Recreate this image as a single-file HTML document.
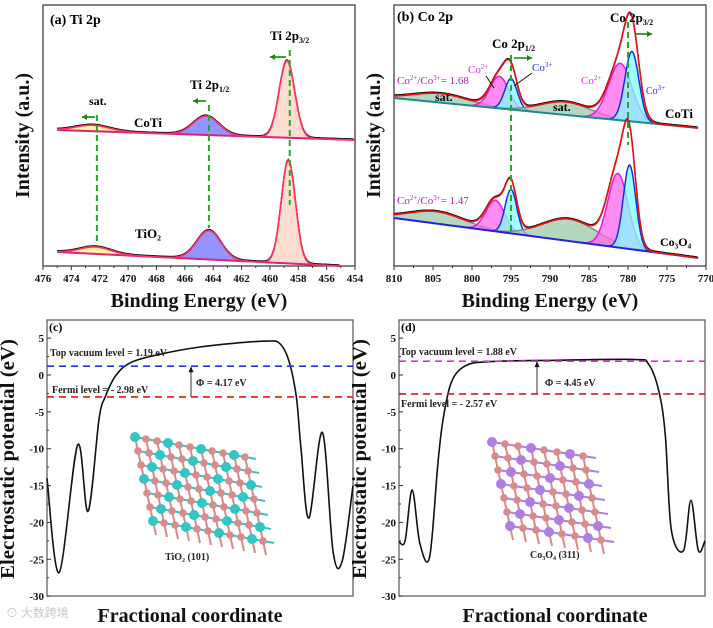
<!DOCTYPE html>
<html><head><meta charset="utf-8">
<style>
html,body{margin:0;padding:0;background:#fff;}
svg{display:block;font-family:"Liberation Serif",serif;}
.tk{font-size:11px;font-weight:bold;fill:#111;}
.ttl{font-size:20px;font-weight:bold;fill:#111;}
.ann{font-size:10px;font-weight:bold;fill:#222;}
</style></head>
<body>
<svg id="fig" width="713" height="628" viewBox="0 0 713 628" xmlns="http://www.w3.org/2000/svg">
<g id="gA"></g>
<g id="gB"></g>
<g id="gC"></g>
<g id="gD"></g>
<text x="6" y="617" font-size="12" fill="#c8c8c8" font-family="'Noto Sans CJK SC',sans-serif">⊙ 大数跨境</text>
</svg>
<script>
// ===== Panel (a) data =====
const aTicks = [476,474,472,470,468,466,464,462,460,458,456,454];
const aCoTiBase = [475, 9, 454, -1];
const aCoTiCenters = [472.5, 464.5, 458.8];
const aCoTiHeights = [6, 19, 77];
const aCoTiSigmas = [1.2, 0.9, 0.55];
const aTiO2Base = [475, -113, 455, -127];
const aTiO2Centers = [472.3, 464.3, 458.7];
const aTiO2Heights = [7, 29, 103];
const aTiO2Sigmas = [1.1, 0.85, 0.5];
// ===== Panel (b) data =====
const bTicks = [810,805,800,795,790,785,780,775,770];
const bCoTiBase = [810, 32, 771, 2];
const bCoTiCenters = [804, 796.5, 795, 788, 781, 779.5];
const bCoTiHeights = [9, 32, 31, 13, 57, 70];
const bCoTiSigmas = [3.5, 1.2, 0.8, 3.2, 1.5, 0.9];
const bCo3O4Base = [810, -88, 771, -128];
const bCo3O4Centers = [804.5, 797, 795, 787.5, 781.3, 779.8];
const bCo3O4Heights = [12, 31, 44, 22, 74, 84];
const bCo3O4Sigmas = [3.5, 1.2, 0.75, 3.5, 1.3, 0.8];
// ===== Panel (c) / (d) data =====
const cFrac = [0,0.04,0.1,0.134,0.17,0.19,0.226,0.28,0.39,0.5,0.61,0.72,0.76,0.79,0.815,0.83,0.856,0.9,0.935,0.965,1];
const cPot  = [-14,-26.8,-9.5,-18.5,-6,-3,0,1.8,3,3.8,4.3,4.6,4.3,2,-3,-10,-19.4,-7.8,-24,-25.2,-15];
const dFrac = [0,0.02,0.043,0.068,0.1,0.127,0.144,0.171,0.215,0.29,0.51,0.77,0.815,0.848,0.87,0.89,0.93,0.954,0.978,1];
const dPot  = [-22.6,-22.5,-15.6,-22.8,-24.7,-12,-6,-1,1.2,1.8,2,2.1,1.5,-2,-8,-21,-23.8,-17,-23.8,-22.5];
const potTicks = [5,0,-5,-10,-15,-20,-25,-30];
const cLevels = [1.19, -2.98];
const dLevels = [1.88, -2.57];

const NS="http://www.w3.org/2000/svg";
function mk(p,tag,at,txt){const e=document.createElementNS(NS,tag);for(const k in at)e.setAttribute(k,at[k]);if(txt!==undefined)e.textContent=txt;p.appendChild(e);return e;}
function gauss(E,c,h,s){return h*Math.exp(-0.5*((E-c)/s)**2);}

function xpsPanel(g,o){
  const X=E=>o.x0+(o.e0-E)*(o.x1-o.x0)/(o.e0-o.e1);
  const Y=I=>o.yZero-I;
  let fr=mk(g,'rect',{x:o.x0,y:o.y0,width:o.x1-o.x0,height:o.y1-o.y0,fill:'none',stroke:'#333','stroke-width':1.2});
  
  o.ticks.forEach((t,i)=>{
    const x=X(t);
    let l=mk(g,'line',{x1:x,y1:o.y1,x2:x,y2:o.y1+4,stroke:'#333'});
    
    if(i<o.ticks.length-1){const xm=X((t+o.ticks[i+1])/2);mk(g,'line',{x1:xm,y1:o.y1,x2:xm,y2:o.y1+2,stroke:'#333'});}
    let tx=mk(g,'text',{x:x,y:o.y1+16,'text-anchor':'middle',class:'tk'},t);
    
  });
  let xt=mk(g,'text',{x:(o.x0+o.x1)/2,y:o.y1+41,'text-anchor':'middle',class:'ttl'},'Binding Energy (eV)');
  
  let yt=mk(g,'text',{x:0,y:0,'text-anchor':'middle',class:'ttl',transform:`translate(${o.x0-14},${(o.y0+o.y1)/2}) rotate(-90)`},'Intensity (a.u.)');
  
  o.series.forEach(s=>{
    const [Ea,Ia,Eb,Ib]=s.base;
    const base=E=>Ia+(E-Ea)*(Ib-Ia)/(Eb-Ea);
    const sg=mk(g,'g',{});
    
    s.centers.forEach((c,k)=>{
      const lo=c+4*s.sigmas[k], hi=c-4*s.sigmas[k];
      const pts=[];
      for(let E=Math.min(lo,Ea);E>=Math.max(hi,Eb);E-=0.1){pts.push([X(E),Y(base(E)+gauss(E,c,s.heights[k],s.sigmas[k]))]);}
      if(!pts.length)return;
      const d='M'+pts.map(p=>p[0].toFixed(1)+','+p[1].toFixed(1)).join('L');
      const back=[];for(let i=pts.length-1;i>=0;i--){const E=o.e0-(pts[i][0]-o.x0)*(o.e0-o.e1)/(o.x1-o.x0);back.push([pts[i][0],Y(base(E))]);}
      const st=s.styles[k];
      let f=mk(sg,'path',{d:d+'L'+back.map(p=>p[0].toFixed(1)+','+p[1].toFixed(1)).join('L')+'Z',fill:st[0],'fill-opacity':0.75,stroke:'none'});
      
      let l=mk(sg,'path',{d:d,fill:'none',stroke:st[1],'stroke-width':1.5});
      
    });
    let bl=mk(sg,'line',{x1:X(Ea),y1:Y(Ia),x2:X(Eb),y2:Y(Ib),stroke:s.baseColor,'stroke-width':2});
    
    const env=[];
    for(let E=Ea;E>=Eb;E-=0.1){let v=base(E);s.centers.forEach((c,k)=>v+=gauss(E,c,s.heights[k],s.sigmas[k]));env.push(X(E).toFixed(1)+','+Y(v).toFixed(1));}
    let raw=mk(sg,'path',{d:'M'+env.join('L'),fill:'none',stroke:'#111','stroke-width':1.3,transform:'translate(0,-1)'});
    
    let ev=mk(sg,'path',{d:'M'+env.join('L'),fill:'none',stroke:s.envColor,'stroke-width':1.6});
    
  });
  return {X,Y};
}
function dashV(g,x,y1,y2,name){let l=mk(g,'line',{x1:x,y1:y1,x2:x,y2:y2,stroke:'#22aa22','stroke-width':2,'stroke-dasharray':'6,4'});}
function arrow(g,x1,x2,y,name){let a=mk(g,'g',{});
  mk(a,'line',{x1:x1,y1:y,x2:x2,y2:y,stroke:'#118811','stroke-width':1.6});
  const dir=x2>x1?1:-1;mk(a,'path',{d:`M${x2},${y}L${x2-dir*5},${y-3}L${x2-dir*5},${y+3}Z`,fill:'#118811'});}
function txt(g,x,y,s,attrs,name){let t=mk(g,'text',Object.assign({x:x,y:y},attrs||{}));t.innerHTML=s;return t;}

// Panel A
const gA=document.getElementById('gA');
const A=xpsPanel(gA,{x0:43,x1:355,y0:5,y1:266,e0:476,e1:454,yZero:139,ticks:aTicks,series:[
 {name:'coti-spectrum',base:aCoTiBase,centers:aCoTiCenters,heights:aCoTiHeights,sigmas:aCoTiSigmas,baseColor:'#dd2277',envColor:'#ff3366',
  styles:[['#fff080','#ff3377'],['#7070ff','#8822dd'],['#ffd0c0','#ff7722']]},
 {name:'tio2-spectrum',base:aTiO2Base,centers:aTiO2Centers,heights:aTiO2Heights,sigmas:aTiO2Sigmas,baseColor:'#dd2277',envColor:'#ff3366',
  styles:[['#fff080','#ff3377'],['#7070ff','#8822dd'],['#ffd0c0','#ff7722']]}]});
dashV(gA,A.X(472.2),115,245,'sat-guide-line');dashV(gA,A.X(464.3),105,228,'ti2p12-guide-line');dashV(gA,A.X(458.6),50,205,'ti2p32-guide-line');
arrow(gA,95,82,117,'shift-arrow-sat');arrow(gA,206,193,101,'shift-arrow-2p12');arrow(gA,286,270,57,'shift-arrow-2p32');
txt(gA,50,24,'(a) Ti 2p',{'font-size':14,'font-weight':'bold'},'panel-a-label');
txt(gA,89,105,'sat.',{'font-size':12,'font-weight':'bold'},'sat-label');
txt(gA,190,89,'Ti 2p<tspan font-size="8" dy="3">1/2</tspan>',{'font-size':13,'font-weight':'bold'},'ti2p12-label');
txt(gA,270,40,'Ti 2p<tspan font-size="8" dy="3">3/2</tspan>',{'font-size':13,'font-weight':'bold'},'ti2p32-label');
txt(gA,134,127,'CoTi',{'font-size':13,'font-weight':'bold'},'coti-label');
txt(gA,135,238,'TiO₂',{'font-size':13,'font-weight':'bold'},'tio2-label');

// Panel B
const gB=document.getElementById('gB');
const pink=['#ff66ee','#dd22cc'],cyan=['#80ffff','#1133dd'],sat=['#9cc8aa','#888888'];
const B=xpsPanel(gB,{x0:394,x1:706,y0:5,y1:266,e0:810,e1:770,yZero:130,ticks:bTicks,series:[
 {name:'coti-co-spectrum',base:bCoTiBase,centers:bCoTiCenters,heights:bCoTiHeights,sigmas:bCoTiSigmas,baseColor:'#1a8a8a',envColor:'#ee1111',styles:[sat,pink,cyan,sat,pink,cyan]},
 {name:'co3o4-spectrum',base:bCo3O4Base,centers:bCo3O4Centers,heights:bCo3O4Heights,sigmas:bCo3O4Sigmas,baseColor:'#2222dd',envColor:'#ee1111',styles:[sat,pink,cyan,sat,pink,cyan]}]});
dashV(gB,B.X(795),55,232,'co2p12-guide-line');dashV(gB,B.X(780),22,145,'co2p32-guide-line');
arrow(gB,514,532,58,'shift-arrow-co2p12');arrow(gB,636,652,34,'shift-arrow-co2p32');
txt(gB,397,21,'(b) Co 2p',{'font-size':14,'font-weight':'bold'},'panel-b-label');
txt(gB,492,48,'Co 2p<tspan font-size="8" dy="3">1/2</tspan>',{'font-size':13,'font-weight':'bold'},'co2p12-label');
txt(gB,610,22,'Co 2p<tspan font-size="8" dy="3">3/2</tspan>',{'font-size':13,'font-weight':'bold'},'co2p32-label');
txt(gB,397,84,'Co<tspan font-size="7" dy="-4">2+</tspan><tspan dy="4">/Co</tspan><tspan font-size="7" dy="-4">3+</tspan><tspan dy="4">= 1.68</tspan>',{'font-size':11,fill:'#aa22aa'},'ratio-coti-label');
txt(gB,397,204,'Co<tspan font-size="7" dy="-4">2+</tspan><tspan dy="4">/Co</tspan><tspan font-size="7" dy="-4">3+</tspan><tspan dy="4">= 1.47</tspan>',{'font-size':11,fill:'#aa22aa'},'ratio-co3o4-label');
txt(gB,468,73,'Co<tspan font-size="7" dy="-4">2+</tspan>',{'font-size':11,fill:'#ee22dd'},'co2plus-label-1');
txt(gB,532,71,'Co<tspan font-size="7" dy="-4">3+</tspan>',{'font-size':11,fill:'#2233dd'},'co3plus-label-1');
txt(gB,581,84,'Co<tspan font-size="7" dy="-4">2+</tspan>',{'font-size':11,fill:'#ee22dd'},'co2plus-label-2');
txt(gB,646,94,'Co<tspan font-size="7" dy="-4">3+</tspan>',{'font-size':10,fill:'#2233dd'},'co3plus-label-2');
txt(gB,435,101,'sat.',{'font-size':12,'font-weight':'bold'},'sat-label-1');
txt(gB,553,111,'sat.',{'font-size':12,'font-weight':'bold'},'sat-label-2');
txt(gB,665,118,'CoTi',{'font-size':13,'font-weight':'bold'},'coti-label');
txt(gB,660,246,'Co₃O₄',{'font-size':12,'font-weight':'bold'},'co3o4-label');
mk(gB,'line',{x1:486,y1:76,x2:494,y2:88,stroke:'#111'});mk(gB,'line',{x1:532,y1:73,x2:514,y2:86,stroke:'#111'});

// Potential panels
function potPanel(g,o){
  const X=f=>o.x0+f*(o.x1-o.x0);
  const Y=v=>375-v*7.371;
  let fr=mk(g,'rect',{x:o.x0,y:320,width:o.x1-o.x0,height:276,fill:'none',stroke:'#555','stroke-width':1.2});
  
  potTicks.forEach((t,i)=>{
    let l=mk(g,'line',{x1:o.x0,y1:Y(t),x2:o.x0+4,y2:Y(t),stroke:'#333'});
    
    if(i<potTicks.length-1)mk(g,'line',{x1:o.x0,y1:Y(t-2.5),x2:o.x0+2,y2:Y(t-2.5),stroke:'#333'});
    let tx=mk(g,'text',{x:o.x0-3,y:Y(t)+4,'text-anchor':'end',class:'tk','font-size':12},t);
    
  });
  let yt=mk(g,'text',{x:0,y:0,'text-anchor':'middle',class:'ttl',textLength:240,lengthAdjust:'spacingAndGlyphs',transform:`translate(${o.x0-33},459) rotate(-90)`},'Electrostatic potential (eV)');
  
  let xt=mk(g,'text',{x:o.xtc,y:622,'text-anchor':'middle',class:'ttl'},'Fractional coordinate');
  
  const P=o.fr.map((f,i)=>[X(f),Y(o.pot[i])]);
  let d='M'+P[0][0]+','+P[0][1];
  for(let i=0;i<P.length-1;i++){const p0=P[Math.max(0,i-1)],p1=P[i],p2=P[i+1],p3=P[Math.min(P.length-1,i+2)];
    d+=`C${(p1[0]+(p2[0]-p0[0])/6).toFixed(1)},${(p1[1]+(p2[1]-p0[1])/6).toFixed(1)} ${(p2[0]-(p3[0]-p1[0])/6).toFixed(1)},${(p2[1]-(p3[1]-p1[1])/6).toFixed(1)} ${p2[0].toFixed(1)},${p2[1].toFixed(1)}`;}
  let c=mk(g,'path',{d:d,fill:'none',stroke:'#111','stroke-width':1.6});
  
  let v=mk(g,'line',{x1:o.x0,y1:Y(o.lv[0]),x2:o.x1,y2:Y(o.lv[0]),stroke:o.vc,'stroke-width':1.6,'stroke-dasharray':'7,5'});
  
  let f=mk(g,'line',{x1:o.x0,y1:Y(o.lv[1]),x2:o.x1,y2:Y(o.lv[1]),stroke:'#ee1111','stroke-width':1.6,'stroke-dasharray':'7,5'});
  
  let a=mk(g,'g',{});
  mk(a,'line',{x1:o.ax,y1:Y(o.lv[1]),x2:o.ax,y2:Y(o.lv[0])+3,stroke:'#333','stroke-width':1});
  mk(a,'path',{d:`M${o.ax},${Y(o.lv[0])}L${o.ax-2.5},${Y(o.lv[0])+6}L${o.ax+2.5},${Y(o.lv[0])+6}Z`,fill:'#111'});
  return {X,Y};
}
function molecule(g,x0,y0,cols,rows,dx,dy,c1,c2,name){
  const m=mk(g,'g',{});
  for(let r=0;r<rows;r++)for(let k=0;k<cols;k++){
    const x=x0+k*dx+r*3,y=y0+r*dy+k*2;
    mk(m,'line',{x1:x,y1:y,x2:x+dx,y2:y+2,stroke:c2,'stroke-width':2});
    mk(m,'line',{x1:x,y1:y,x2:x+3,y2:y+dy,stroke:c1,'stroke-width':2});
    const big=(r+k)%3===0;
    mk(m,'circle',{cx:x,cy:y,r:big?5:3.8,fill:big?c2:c1});
  }
}
const gC=document.getElementById('gC');
potPanel(gC,{x0:47,x1:353,fr:cFrac,pot:cPot,lv:cLevels,vc:'#2233ee',ax:191,xtc:190});
molecule(gC,135,437,11,7,11,14,'#d98a8a','#33c4c4','tio2-structure-inset');
txt(gC,49,331,'(c)',{'font-size':12,'font-weight':'bold'},'panel-c-label');
txt(gC,50,356,'Top vacuum level = 1.19 eV',{class:'ann'},'vacuum-level-label');
txt(gC,52,393,'Fermi level = - 2.98 eV',{class:'ann'},'fermi-level-label');
txt(gC,196,386,'Φ = 4.17 eV',{class:'ann','font-size':11},'work-function-label');
txt(gC,165,560,'TiO₂ (101)',{class:'ann'},'tio2-structure-label');
const gD=document.getElementById('gD');
potPanel(gD,{x0:399,x1:705,fr:dFrac,pot:dPot,lv:dLevels,vc:'#ee22ee',ax:537,xtc:555});
molecule(gD,492,442,8,7,13,14,'#d98a8a','#b07ee0','co3o4-structure-inset');
txt(gD,401,331,'(d)',{'font-size':12,'font-weight':'bold'},'panel-d-label');
txt(gD,400,355,'Top vacuum level = 1.88 eV',{class:'ann'},'vacuum-level-label');
txt(gD,401,407,'Fermi level = - 2.57 eV',{class:'ann'},'fermi-level-label');
txt(gD,545,386,'Φ = 4.45 eV',{class:'ann','font-size':11},'work-function-label');
txt(gD,530,558,'Co₃O₄ (311)',{class:'ann'},'co3o4-structure-label');
</script>
</body></html>
